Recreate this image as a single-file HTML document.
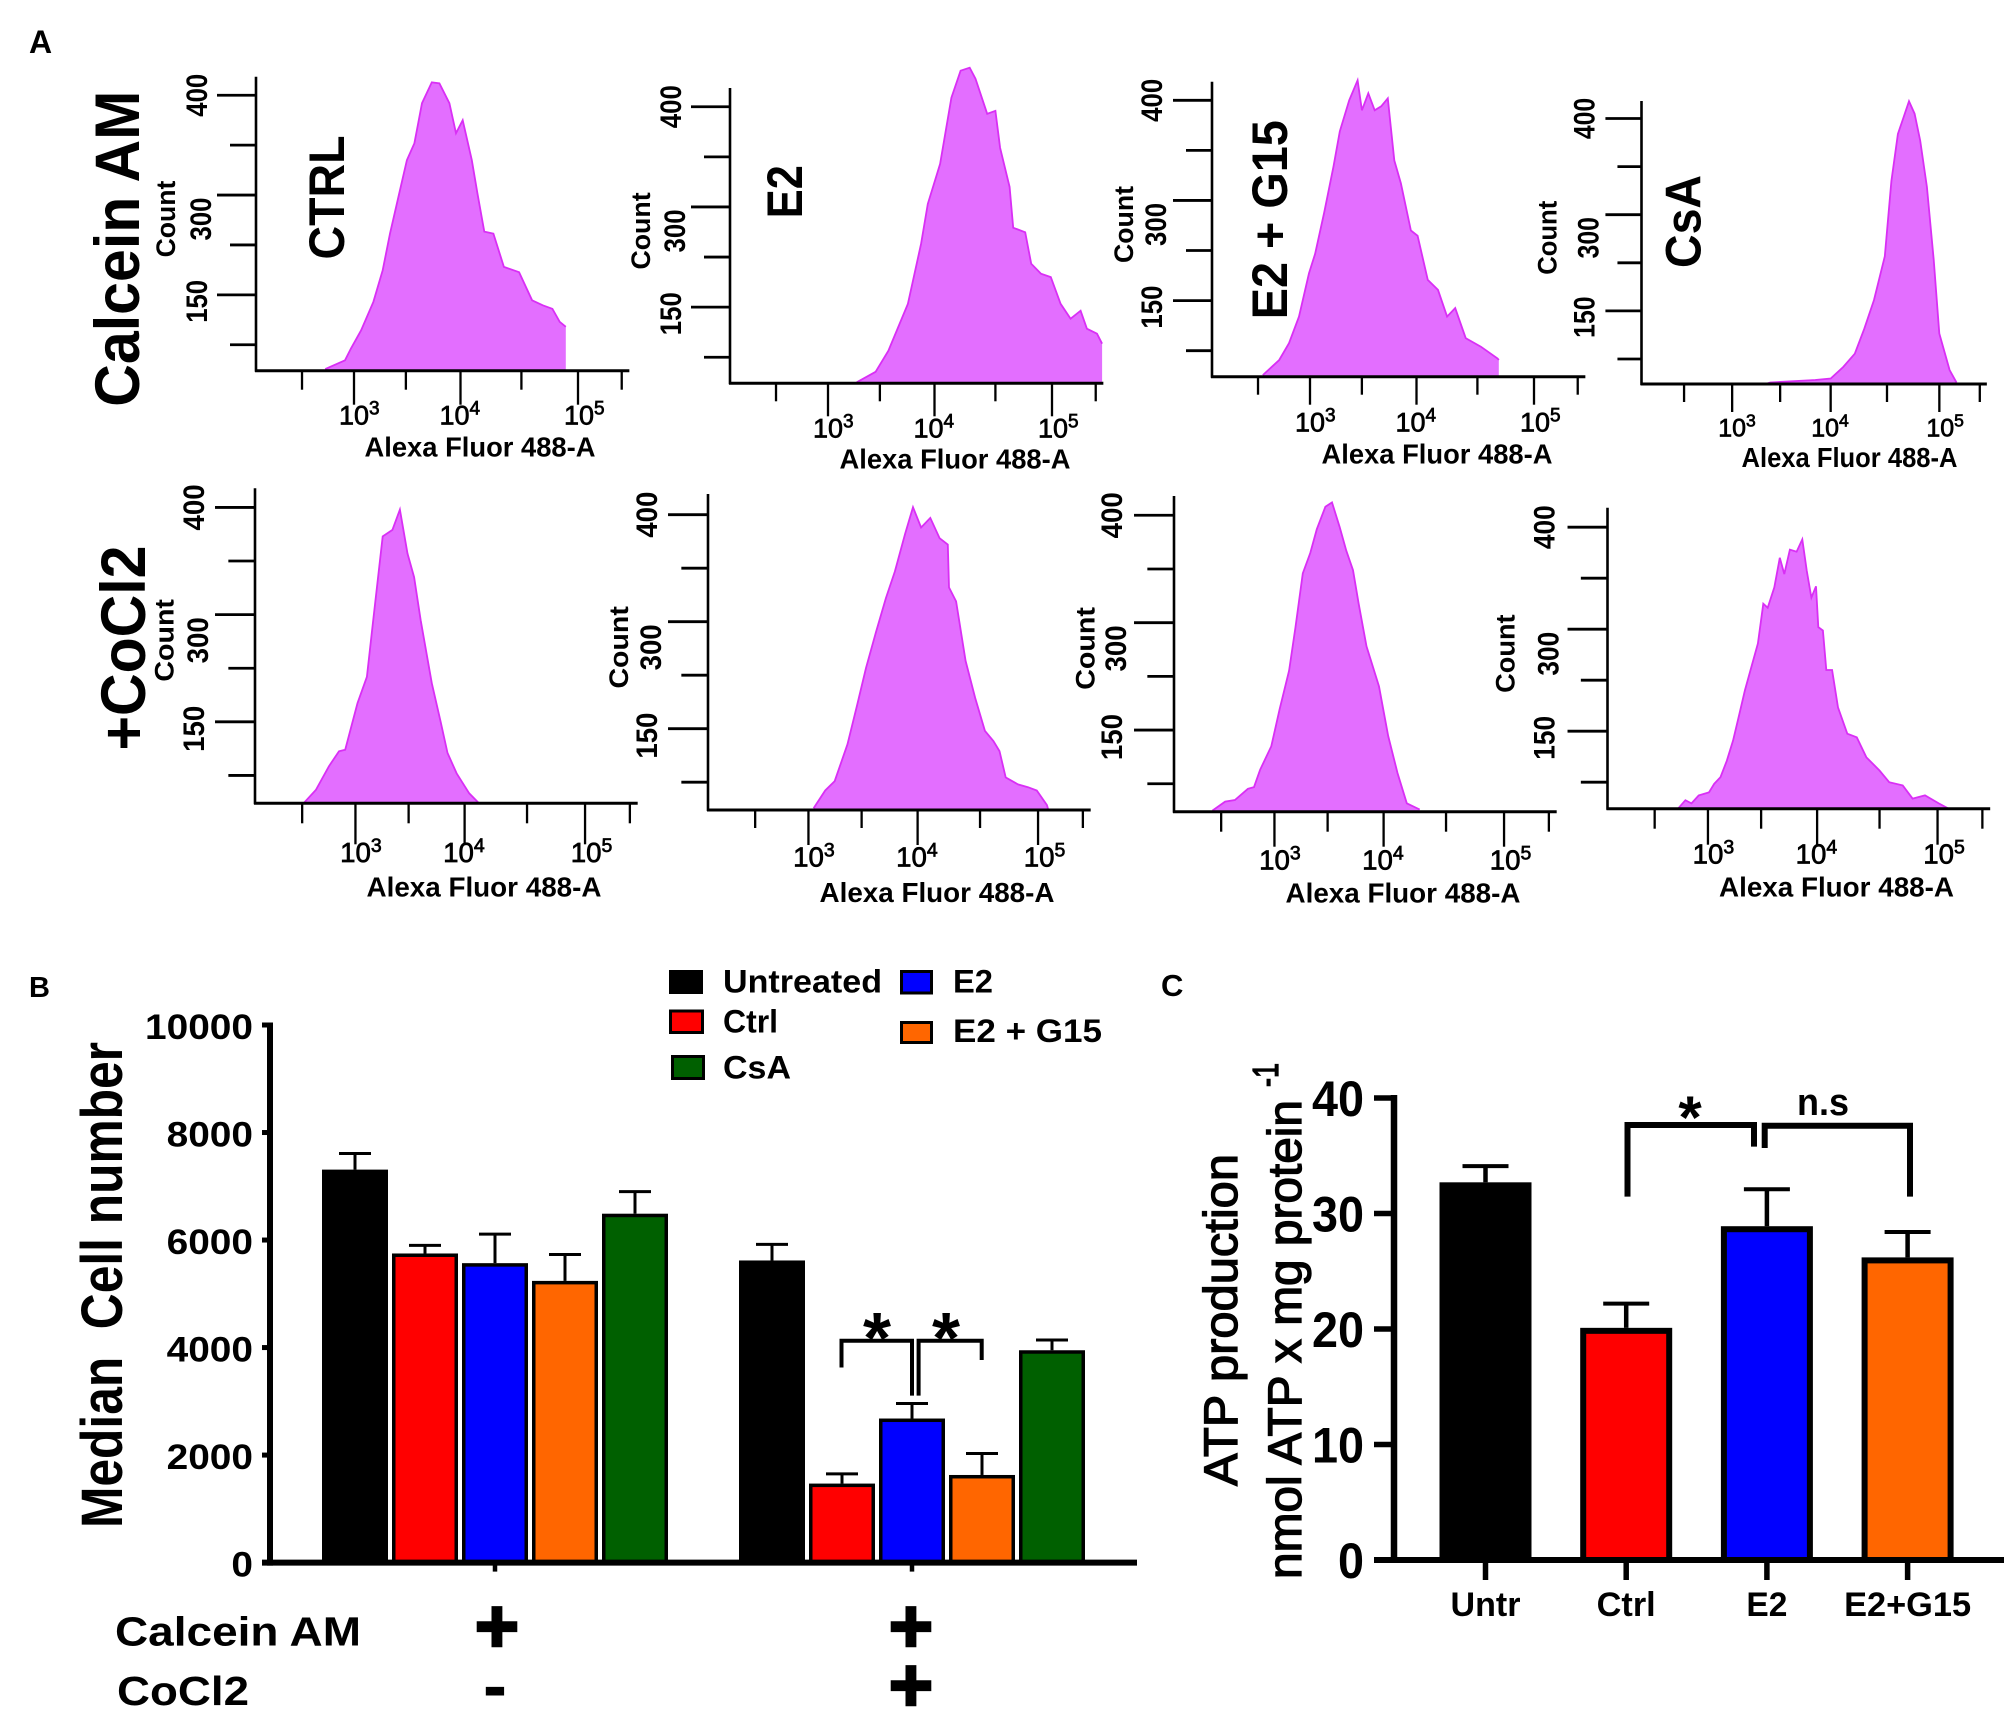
<!DOCTYPE html>
<html lang="en">
<head>
<meta charset="utf-8">
<title>Calcein AM flow cytometry, median cell number and ATP production</title>
<style>
  html, body { margin: 0; padding: 0; background: #fff; }
  svg { display: block; }
  text { font-family: "Liberation Sans", sans-serif; font-weight: bold; fill: #000; white-space: pre; }
  text.semi { font-weight: normal; stroke: #000; stroke-width: 1.3px; }
</style>
</head>
<body>
<svg id="figure" xmlns="http://www.w3.org/2000/svg" width="2008" height="1711" viewBox="0 0 2008 1711">
  <rect x="0" y="0" width="2008" height="1711" fill="#fff"/>

  <text x="29" y="53" font-size="32">A</text>
  <text x="29" y="997" font-size="29">B</text>
  <text x="1161" y="996" font-size="31">C</text>

  <text transform="translate(139,248.7) rotate(-90)" text-anchor="middle" font-size="63" textLength="316" lengthAdjust="spacingAndGlyphs">Calcein AM</text>
  <text transform="translate(145,648) rotate(-90)" text-anchor="middle" font-size="63" textLength="205" lengthAdjust="spacingAndGlyphs">+CoCl2</text>

  <text transform="translate(344,197.5) rotate(-90)" text-anchor="middle" font-size="50" textLength="124" lengthAdjust="spacingAndGlyphs">CTRL</text>
  <text transform="translate(802,191.7) rotate(-90)" text-anchor="middle" font-size="50" textLength="53" lengthAdjust="spacingAndGlyphs">E2</text>
  <text transform="translate(1287,219.7) rotate(-90)" text-anchor="middle" font-size="50" textLength="199" lengthAdjust="spacingAndGlyphs">E2 + G15</text>
  <text transform="translate(1700.5,221.5) rotate(-90)" text-anchor="middle" font-size="50" textLength="93" lengthAdjust="spacingAndGlyphs">CsA</text>

  <g id="histograms"></g>

  <g id="chart-b">
    <text transform="translate(122,1285) rotate(-90)" text-anchor="middle" font-size="58" textLength="486" lengthAdjust="spacingAndGlyphs">Median  Cell number</text>
  </g>
  <g>
    <rect x="669" y="970" width="34" height="24" fill="#000"/>
    <text x="723" y="992.7" font-size="32" textLength="159" lengthAdjust="spacingAndGlyphs">Untreated</text>
    <rect x="670.5" y="1011" width="32" height="21.5" fill="#ff0000" stroke="#000" stroke-width="3"/>
    <text x="723" y="1032.5" font-size="32" textLength="55" lengthAdjust="spacingAndGlyphs">Ctrl</text>
    <rect x="672.5" y="1056.5" width="31" height="22" fill="#006000" stroke="#000" stroke-width="3"/>
    <text x="723" y="1078.6" font-size="32" textLength="68" lengthAdjust="spacingAndGlyphs">CsA</text>
    <rect x="901.5" y="971.5" width="30" height="21.5" fill="#0000ff" stroke="#000" stroke-width="3"/>
    <text x="953" y="992.7" font-size="32" textLength="40" lengthAdjust="spacingAndGlyphs">E2</text>
    <rect x="901.5" y="1022.5" width="30" height="20" fill="#ff6600" stroke="#000" stroke-width="3"/>
    <text x="953" y="1042" font-size="32" textLength="149" lengthAdjust="spacingAndGlyphs">E2 + G15</text>
  </g>
  <g>
    <path d="M841.5 1367.5 V1340.8 H912 V1395.6" fill="none" stroke="#000" stroke-width="4"/>
    <path d="M918.6 1395.6 V1340.8 H981.7 V1360" fill="none" stroke="#000" stroke-width="4"/>
    <text x="877" y="1363" text-anchor="middle" font-size="72">*</text>
    <text x="946" y="1363" text-anchor="middle" font-size="72">*</text>
  </g>
  <g>
    <text x="115" y="1645.6" font-size="41" textLength="246" lengthAdjust="spacingAndGlyphs">Calcein AM</text>
    <text x="117" y="1705" font-size="41" textLength="132" lengthAdjust="spacingAndGlyphs">CoCl2</text>
    <text x="497" y="1652" text-anchor="middle" font-size="76" stroke="#000" stroke-width="2.5">+</text>
    <text x="911" y="1652" text-anchor="middle" font-size="76" stroke="#000" stroke-width="2.5">+</text>
    <text x="495" y="1710" text-anchor="middle" font-size="72">-</text>
    <text x="911" y="1711" text-anchor="middle" font-size="76" stroke="#000" stroke-width="2.5">+</text>
  </g>

  <g id="chart-c">
    <text class="semi" transform="translate(1237,1320) rotate(-90)" text-anchor="middle" font-size="47" textLength="332" lengthAdjust="spacingAndGlyphs">ATP production</text>
    <text class="semi" transform="translate(1301,1339.5) rotate(-90)" text-anchor="middle" font-size="47" textLength="479" lengthAdjust="spacingAndGlyphs">nmol ATP x mg protein</text>
    <text class="semi" transform="translate(1278,1075) rotate(-90)" text-anchor="middle" font-size="36" textLength="24" lengthAdjust="spacingAndGlyphs">-1</text>
  </g>
  <g>
    <path d="M1627.5 1196.6 V1125 H1754 V1146.6" fill="none" stroke="#000" stroke-width="6"/>
    <path d="M1764.7 1148 V1125.7 H1910 V1196.6" fill="none" stroke="#000" stroke-width="6"/>
    <text x="1690" y="1138" text-anchor="middle" font-size="60">*</text>
    <text x="1823" y="1115" text-anchor="middle" font-size="38" textLength="52" lengthAdjust="spacingAndGlyphs">n.s</text>
  </g>
</svg>

<script>
// ---------- Histogram data (log10 fluorescence, count) ----------
const xTickLog = [2.47, 3, 3.5, 4, 4.53, 5, 5.35];
const xMajorDecades = [3, 4, 5];
const yTickCounts = [50, 150, 225, 300, 350, 400];
const yTickLabels = ['', '150', '', '300', '', '400'];

const calceinCtrlFluor = [2.71,2.91,2.97,3.07,3.19,3.28,3.35,3.43,3.51,3.58,3.65,3.74,3.81,3.90,3.96,4.02,4.10,4.15,4.21,4.29,4.38,4.51,4.62,4.71,4.79,4.85,4.90];
const calceinCtrlCounts = [3,20,43,79,136,187,242,297,335,352,392,413,412,392,362,375,335,302,245,242,192,184,139,129,122,96,86];
const calceinE2Fluor = [3.28,3.46,3.58,3.76,3.88,3.94,4.05,4.15,4.23,4.31,4.36,4.46,4.53,4.57,4.65,4.68,4.78,4.83,4.91,4.99,5.07,5.15,5.23,5.28,5.36,5.40];
const calceinE2Counts = [2,22,63,155,245,303,343,409,436,439,428,393,396,359,320,269,262,215,200,195,155,127,143,107,97,77];
const calceinG15Fluor = [2.52,2.69,2.79,2.89,2.99,3.05,3.14,3.23,3.29,3.38,3.46,3.50,3.56,3.62,3.68,3.74,3.80,3.86,3.95,4.01,4.10,4.19,4.27,4.34,4.43,4.56,4.70,4.71];
const calceinG15Counts = [3,32,65,118,191,220,282,334,369,400,420,390,407,390,394,402,340,317,255,247,181,166,118,135,75,58,35,32];
const calceinCsaFluor = [3.35,3.40,3.85,4.00,4.12,4.23,4.32,4.41,4.51,4.57,4.63,4.68,4.73,4.78,4.83,4.89,4.95,5.00,5.09,5.15];
const calceinCsaCounts = [0,3,8,11,34,61,113,167,235,335,384,401,418,405,377,329,230,103,28,3];
const cobaltCtrlFluor = [2.49,2.61,2.74,2.84,2.90,3.02,3.11,3.17,3.26,3.35,3.42,3.49,3.55,3.61,3.71,3.79,3.85,3.93,4.04,4.12];
const cobaltCtrlCounts = [1,24,67,95,98,176,213,292,373,379,398,357,335,292,204,149,92,54,18,1];
const cobaltE2Fluor = [3.05,3.16,3.25,3.37,3.46,3.54,3.63,3.72,3.80,3.89,3.96,4.03,4.11,4.19,4.26,4.27,4.33,4.41,4.49,4.57,4.64,4.69,4.74,4.84,4.92,4.99,5.07,5.08];
const cobaltE2Counts = [3,35,52,121,184,235,285,322,347,382,407,388,397,378,372,332,319,245,193,146,127,108,59,46,41,35,9,1];
const cobaltG15Fluor = [2.38,2.51,2.61,2.74,2.80,2.86,2.97,3.05,3.14,3.20,3.27,3.34,3.40,3.48,3.54,3.61,3.67,3.73,3.78,3.85,3.96,4.04,4.12,4.20,4.31];
const cobaltG15Counts = [2,18,21,41,44,76,120,179,233,293,346,365,387,408,412,389,367,349,318,267,211,139,70,15,4];
const cobaltCsaFluor = [2.71,2.78,2.84,2.91,3.01,3.06,3.12,3.18,3.24,3.30,3.35,3.41,3.47,3.52,3.56,3.62,3.67,3.71,3.76,3.82,3.87,3.91,3.95,3.99,4.01,4.05,4.08,4.13,4.18,4.26,4.34,4.42,4.53,4.61,4.72,4.80,4.90,5.01,5.08];
const cobaltCsaCounts = [1,16,10,25,31,47,60,92,132,176,210,244,279,325,321,341,370,354,378,376,388,357,331,342,302,298,240,240,185,145,138,99,73,50,44,19,25,10,1];

// ---------- Panel B data ----------
const bSeriesNames = ['untreated', 'ctrl', 'e2', 'e2-g15', 'csa'];
const bGroupNames = ['calcein', 'calcein-cocl2'];
const bCalceinMeans = [7310, 5750, 5570, 5240, 6490];
const bCalceinErrors = [300, 150, 540, 490, 410];
const bCobaltMeans = [5620, 1470, 2680, 1630, 3950];
const bCobaltErrors = [300, 180, 280, 400, 190];
const bTicks = [0, 2000, 4000, 6000, 8000, 10000];

// ---------- Panel C data ----------
const cCategories = ['Untr', 'Ctrl', 'E2', 'E2+G15'];
const cMeans = [32.7, 20.1, 28.9, 26.2];
const cErrors = [1.4, 2.1, 3.2, 2.2];
const cTicks = [0, 10, 20, 30, 40];

// ---------- Helpers ----------
const NS = 'http://www.w3.org/2000/svg';
const barColors = ['#000000', '#ff0000', '#0000ff', '#ff6600', '#006000'];
function make(tag, attrs, parent) {
  const node = document.createElementNS(NS, tag);
  for (const k in attrs) node.setAttribute(k, attrs[k]);
  parent.appendChild(node);
  return node;
}

// ---------- Histogram axis functions ----------
function xFluor(p, v) {
  const t = v - 3;
  return p.x0 + p.xs * (98 + 101 * t + 5.5 * t * t);
}
function yCount(p, c) {
  let coord;
  if (c <= yTickCounts[0]) {
    coord = 0.52 * c / yTickCounts[0];
  } else if (c >= yTickCounts[yTickCounts.length - 1]) {
    coord = 5.52 + (c - 400) / 50;
  } else {
    let i = 0;
    while (c > yTickCounts[i + 1]) i++;
    coord = 0.52 + i + (c - yTickCounts[i]) / (yTickCounts[i + 1] - yTickCounts[i]);
  }
  return p.base - p.spacing * coord;
}

function drawHistogram(p, fluor, counts) {
  const root = document.getElementById('histograms');
  const g = make('g', {}, root);
  
  

  let outlinePts = fluor.map((v, i) => xFluor(p, v).toFixed(1) + ' ' + yCount(p, counts[i]).toFixed(1));
  const first = xFluor(p, fluor[0]).toFixed(1);
  const last = xFluor(p, fluor[fluor.length - 1]).toFixed(1);
  const area = make('path', {
    d: 'M' + first + ' ' + p.base + ' L' + outlinePts.join(' L') + ' L' + last + ' ' + p.base + ' Z',
    fill: '#e36eff'
  }, g);
  
  
  const outline = make('path', {
    d: 'M' + outlinePts.join(' L'),
    fill: 'none', stroke: '#d92ff5', 'stroke-width': 1.8
  }, g);
  
  

  const yAxis = make('line', { x1: p.x0, x2: p.x0, y1: p.top, y2: p.base + 1, stroke: '#000', 'stroke-width': 2.6 }, g);
  
  
  const xAxis = make('line', { x1: p.x0 - 1, x2: xFluor(p, 5.41), y1: p.base, y2: p.base, stroke: '#000', 'stroke-width': 3 }, g);
  
  

  xTickLog.forEach(v => {
    const major = xMajorDecades.includes(v);
    const tx = xFluor(p, v);
    const tick = make('line', { x1: tx, x2: tx, y1: p.base, y2: p.base + (major ? p.major : p.minor), stroke: '#000', 'stroke-width': 2.3 }, g);
    
    
  });
  const labelShift = { 3: -15, 4: -21, 5: -14 };
  xMajorDecades.forEach(d => {
    const label = make('text', { x: xFluor(p, d) + labelShift[d] * p.xs, y: p.base + p.labelDy, 'font-size': 27 * p.xs, style: 'font-weight:normal;stroke:#000;stroke-width:0.7px' }, g);
    
    
    label.appendChild(document.createTextNode('10'));
    const sup = make('tspan', { dy: -10, 'font-size': 19 * p.xs }, label);
    sup.textContent = String(d);
  });

  const s = p.spacing / 50;
  yTickCounts.forEach((c, i) => {
    const ty = yCount(p, c);
    const hasLabel = yTickLabels[i] !== '';
    const tick = make('line', { x1: p.x0 - (hasLabel ? 39 : 26) * p.xs, x2: p.x0, y1: ty, y2: ty, stroke: '#000', 'stroke-width': 2.8 }, g);
    
    
    if (hasLabel) {
      const shift = yTickLabels[i] === '300' ? 24 : (yTickLabels[i] === '150' ? 6.5 : 0);
      const dx = yTickLabels[i] === '300' ? 4 : 0;
      const label = make('text', {
        transform: 'translate(' + (p.x0 + p.labelX + dx) + ',' + (ty + shift * s) + ') rotate(-90)',
        'text-anchor': 'middle', 'font-size': 30, textLength: 43 * s, lengthAdjust: 'spacingAndGlyphs'
      }, g);
      
      
      label.textContent = yTickLabels[i];
    }
  });

  const countTitle = make('text', {
    transform: 'translate(' + (p.x0 + p.countX) + ',' + (yCount(p, 300) + 24 * s) + ') rotate(-90)',
    'text-anchor': 'middle', 'font-size': 27, textLength: 77 * s, lengthAdjust: 'spacingAndGlyphs'
  }, g);
  
  
  countTitle.textContent = 'Count';

  const xTitle = make('text', {
    x: p.x0 + p.alexaX, y: p.base + p.alexaDy, 'text-anchor': 'middle',
    'font-size': 28, textLength: p.alexaLen, lengthAdjust: 'spacingAndGlyphs'
  }, g);
  
  
  xTitle.textContent = 'Alexa Fluor 488-A';
}

drawHistogram({ name: 'calcein-ctrl', x0: 256, base: 370.7, top: 76.7, spacing: 49.9, xs: 1, labelDy: 54, major: 34, minor: 19, labelX: -49, countX: -81, alexaX: 224, alexaDy: 86, alexaLen: 231 }, calceinCtrlFluor, calceinCtrlCounts);
drawHistogram({ name: 'calcein-e2', x0: 730, base: 383.3, top: 88, spacing: 50.1, xs: 1, labelDy: 54, major: 33, minor: 18, labelX: -49, countX: -80, alexaX: 225, alexaDy: 85, alexaLen: 231 }, calceinE2Fluor, calceinE2Counts);
drawHistogram({ name: 'calcein-e2-g15', x0: 1212, base: 376.7, top: 81.7, spacing: 50.07, xs: 1, labelDy: 55, major: 28, minor: 18, labelX: -50, countX: -79, alexaX: 225, alexaDy: 87, alexaLen: 231 }, calceinG15Fluor, calceinG15Counts);
drawHistogram({ name: 'calcein-csa', x0: 1641.5, base: 384, top: 101, spacing: 48.1, xs: 0.925, labelDy: 52.7, major: 28, minor: 18, labelX: -47, countX: -85, alexaX: 208, alexaDy: 83, alexaLen: 216 }, calceinCsaFluor, calceinCsaCounts);
drawHistogram({ name: 'cocl2-ctrl', x0: 255, base: 803.3, top: 488.3, spacing: 53.6, xs: 1.025, labelDy: 58.5, major: 41, minor: 20, labelX: -51, countX: -81.5, alexaX: 229, alexaDy: 93, alexaLen: 235 }, cobaltCtrlFluor, cobaltCtrlCounts);
drawHistogram({ name: 'cocl2-e2', x0: 708, base: 810, top: 494, spacing: 53.5, xs: 1.025, labelDy: 56.7, major: 35, minor: 18, labelX: -51, countX: -80, alexaX: 229, alexaDy: 92, alexaLen: 235 }, cobaltE2Fluor, cobaltE2Counts);
drawHistogram({ name: 'cocl2-e2-g15', x0: 1174, base: 811.7, top: 496, spacing: 53.7, xs: 1.025, labelDy: 57.6, major: 35, minor: 20, labelX: -52, countX: -79.5, alexaX: 229, alexaDy: 91, alexaLen: 235 }, cobaltG15Fluor, cobaltG15Counts);
drawHistogram({ name: 'cocl2-csa', x0: 1607.5, base: 808.7, top: 507.7, spacing: 51, xs: 1.025, labelDy: 54.6, major: 36, minor: 20, labelX: -53, countX: -93, alexaX: 229, alexaDy: 88, alexaLen: 235 }, cobaltCsaFluor, cobaltCsaCounts);

// ---------- Panel B ----------
function bY(v) { return 1562.6 - v * 0.05376; }
function bGroupX(g) { return 495 + g * 417; }
function bX(g, s) { return bGroupX(g) + (s - 2) * 70; }

(function drawB() {
  const root = document.getElementById('chart-b');
  [bCalceinMeans, bCobaltMeans].forEach((means, g) => {
    const errors = g === 0 ? bCalceinErrors : bCobaltErrors;
    means.forEach((m, s) => {
      const cx = bX(g, s);
      const top = bY(m);
      const errTop = bY(m + errors[s]);
      const stem = make('line', { x1: cx, x2: cx, y1: top, y2: errTop, stroke: '#000', 'stroke-width': 3 }, root);
      
      
      const cap = make('line', { x1: cx - 16, x2: cx + 16, y1: errTop, y2: errTop, stroke: '#000', 'stroke-width': 3 }, root);
      
      
      const bar = make('rect', { x: cx - 31.25, y: top + 1.75, width: 62.5, height: bY(0) - top - 1.75, fill: barColors[s], stroke: '#000', 'stroke-width': 3.5 }, root);
      
      
    });
    const tick = make('line', { x1: bGroupX(g), x2: bGroupX(g), y1: bY(0), y2: bY(0) + 9, stroke: '#000', 'stroke-width': 4.5 }, root);
    
    
  });
  const yAxis = make('line', { x1: 270, x2: 270, y1: bY(10000) - 2.5, y2: bY(0) + 3, stroke: '#000', 'stroke-width': 6 }, root);
  
  
  const xAxis = make('line', { x1: 262, x2: 1137, y1: bY(0), y2: bY(0), stroke: '#000', 'stroke-width': 6 }, root);
  
  
  bTicks.forEach(v => {
    const y = bY(v);
    const tick = make('line', { x1: 262, x2: 270, y1: y, y2: y, stroke: '#000', 'stroke-width': 5 }, root);
    
    
    const label = make('text', { x: 253, y: y + 14, 'text-anchor': 'end', 'font-size': 35, textLength: String(v).length * 21.6, lengthAdjust: 'spacingAndGlyphs' }, root);
    
    
    label.textContent = String(v);
  });
})();

// ---------- Panel C ----------
function cY(v) { return 1560 - v * 11.55; }
function cX(i) { return 1485.5 + i * 140.7; }

(function drawC() {
  const root = document.getElementById('chart-c');
  const catWidths = [70, 59, 41, 127];
  cMeans.forEach((m, i) => {
    const cx = cX(i);
    const top = cY(m);
    const errTop = cY(m + cErrors[i]);
    const stem = make('line', { x1: cx, x2: cx, y1: top, y2: errTop, stroke: '#000', 'stroke-width': 4.5 }, root);
    
    
    const cap = make('line', { x1: cx - 23, x2: cx + 23, y1: errTop, y2: errTop, stroke: '#000', 'stroke-width': 4 }, root);
    
    
    const bar = make('rect', { x: cx - 43, y: top + 3, width: 86, height: cY(0) - top - 3, fill: barColors[i], stroke: '#000', 'stroke-width': 6 }, root);
    
    
    const tick = make('line', { x1: cx, x2: cx, y1: cY(0), y2: cY(0) + 20, stroke: '#000', 'stroke-width': 5.5 }, root);
    
    
    const label = make('text', { x: cx, y: 1616, 'text-anchor': 'middle', 'font-size': 34, textLength: catWidths[i], lengthAdjust: 'spacingAndGlyphs' }, root);
    
    
    label.textContent = cCategories[i];
  });
  const yAxis = make('line', { x1: 1394, x2: 1394, y1: cY(40) - 3, y2: cY(0) + 3, stroke: '#000', 'stroke-width': 6.5 }, root);
  
  
  const xAxis = make('line', { x1: 1374, x2: 2004, y1: cY(0), y2: cY(0), stroke: '#000', 'stroke-width': 6 }, root);
  
  
  cTicks.forEach(v => {
    const y = cY(v);
    const tick = make('line', { x1: 1374, x2: 1394, y1: y, y2: y, stroke: '#000', 'stroke-width': 5.5 }, root);
    
    
    const label = make('text', { x: 1364, y: y + 18, 'text-anchor': 'end', 'font-size': 50, textLength: String(v).length * 26, lengthAdjust: 'spacingAndGlyphs' }, root);
    
    
    label.textContent = String(v);
  });
})();
</script>
</body>
</html>
